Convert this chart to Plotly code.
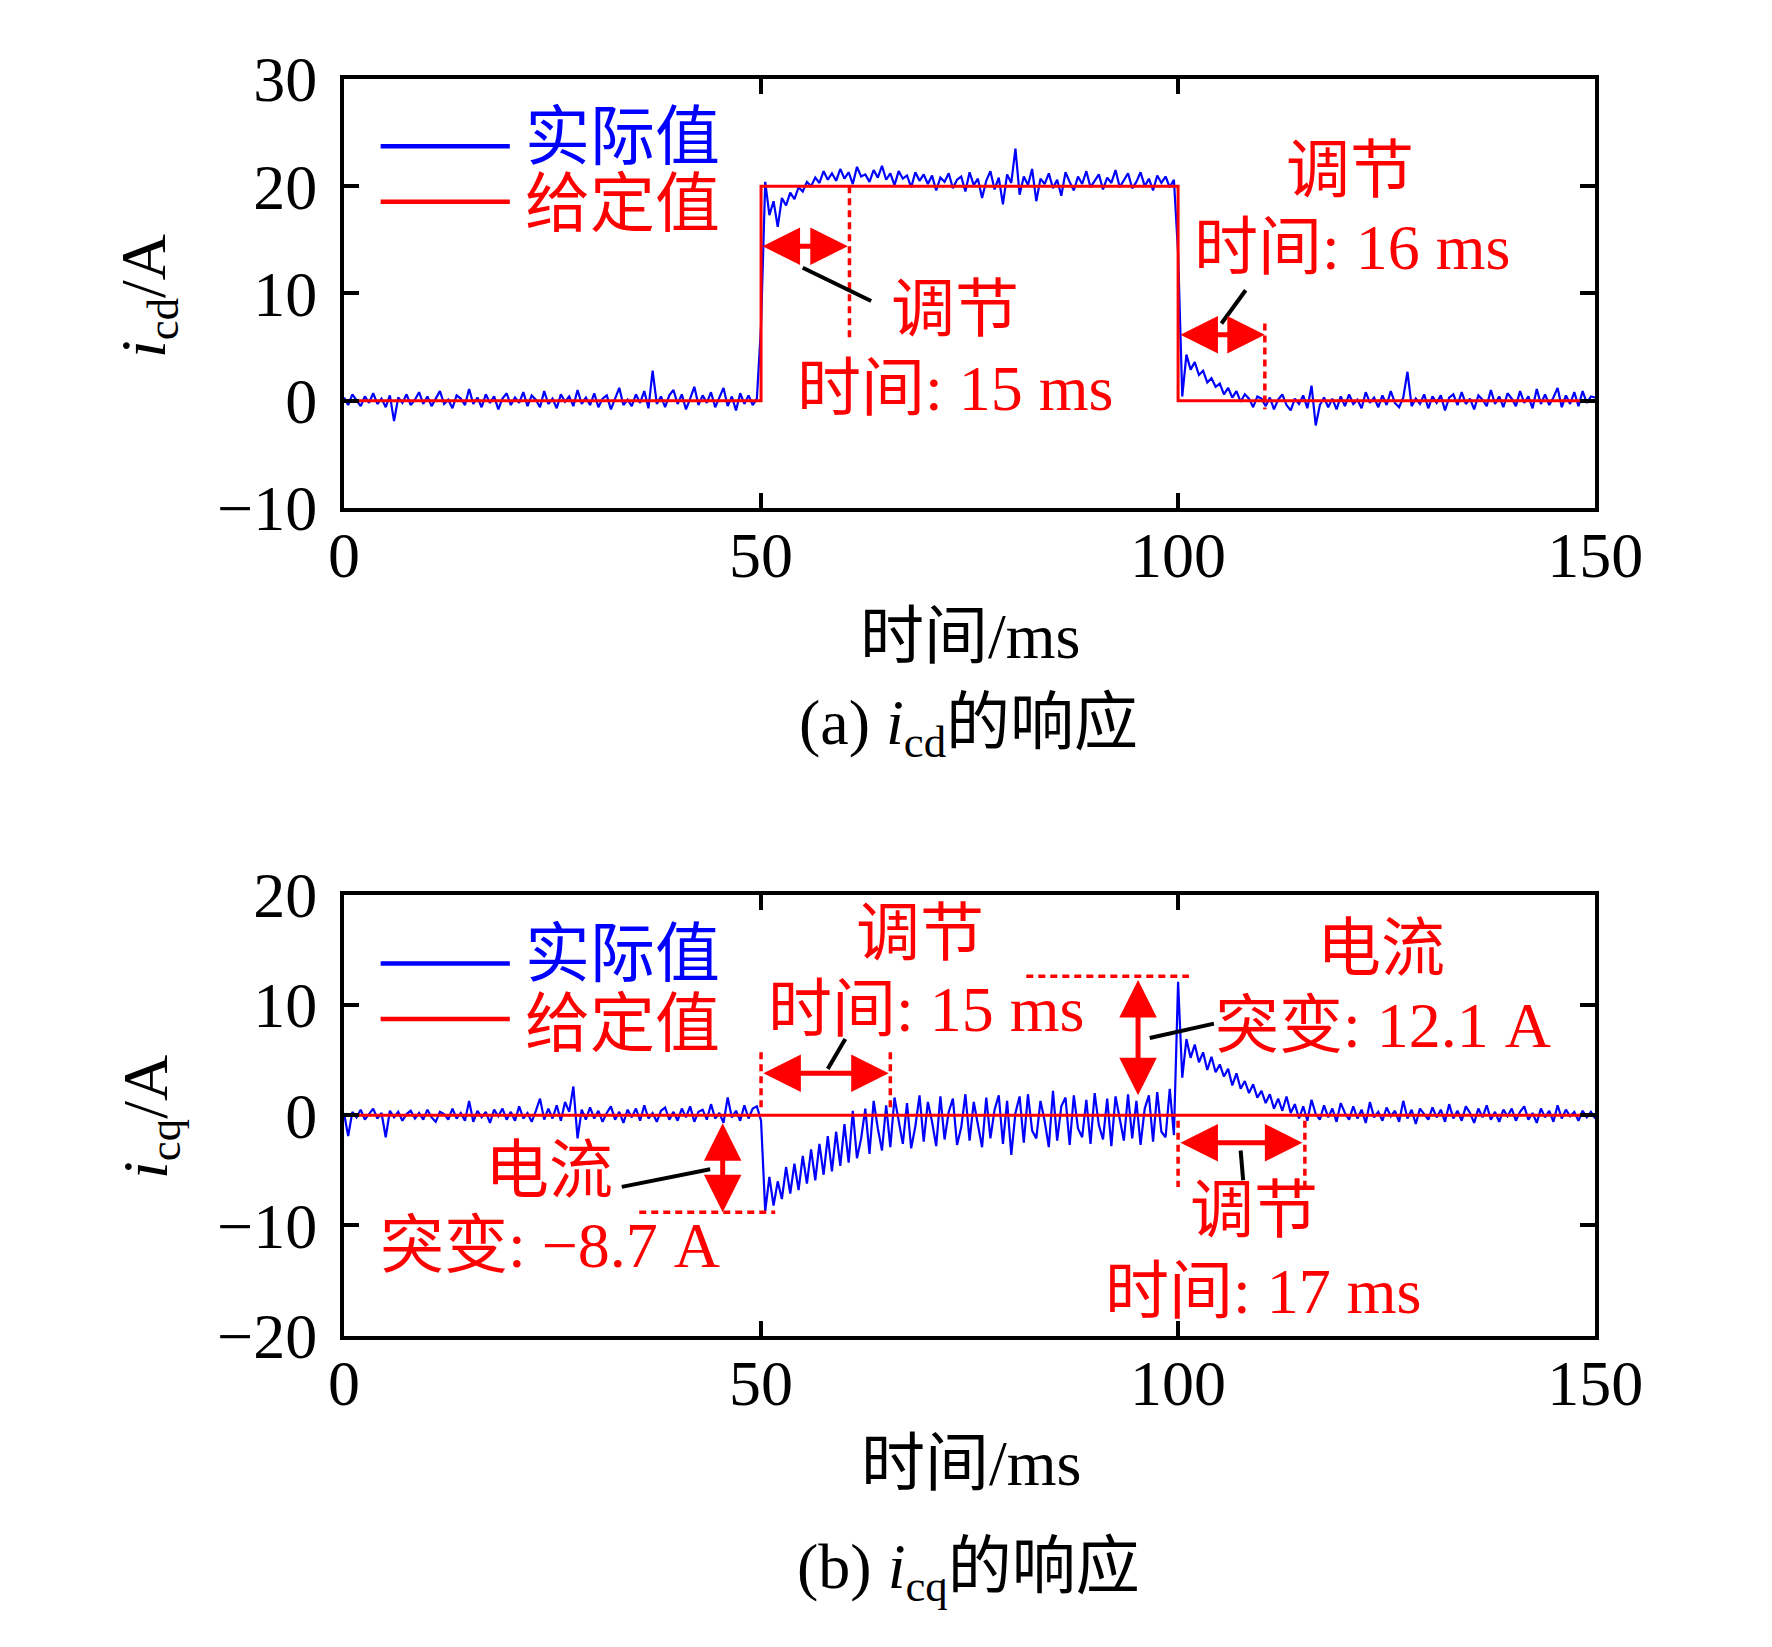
import plotly.graph_objects as go

W, H = 1772, 1647

# time base: 0 .. 150 ms, 0.5 ms step
t = [i * 0.5 for i in range(301)]

# (a) i_cd actual value, A
icd_actual = [
    0.3, -0.4, 0.6, 0.1, -0.5, 0.4, -0.2, 0.7, -0.3, 0.2, -0.6, 0.5, -1.9, 0.3, -0.2, 0.6, -0.4, 0.1, 0.8, -0.3,
    0.4, -0.5, 0.2, 0.9, -0.3, 0.1, -0.7, 0.5, 0.2, -0.4, 1.1, -0.3, 0.3, -0.6, 0.6, -0.2, 0.4, -0.8, 0.2, 0.7,
    -0.4, 0.3, -0.2, 0.8, -0.5, 0.5, 0.1, -0.6, 0.9, -0.3, 0.2, -0.7, 0.6, -0.1, 0.4, -0.5, 1.0, -0.3, 0.3, -0.4,
    0.7, -0.6, 0.2, 0.5, -0.8, 0.3, 1.2, -0.4, 0.1, -0.5, 0.6, -0.2, 0.9, -0.7, 2.8, -0.3, 0.4, -0.6, 0.5, 1.0,
    -0.3, 0.6, -0.8, 0.2, 1.3, -0.4, 0.5, -0.2, 0.8, -0.6, 0.3, 1.2, -0.5, 0.4, -0.9, 0.7, -0.3, 0.5, -0.4, 0.2,
    7.0, 20.4, 17.3, 18.6, 16.2, 18.9, 18.2, 19.4, 18.8, 19.9, 19.5, 20.4, 20.0, 20.8, 20.3, 21.4, 20.6, 21.2, 20.5, 21.6,
    20.7, 21.3, 20.2, 21.8, 20.9, 21.1, 20.4, 21.5, 20.8, 21.9, 20.6, 21.2, 20.1, 21.4, 20.7, 21.0, 19.9, 21.3, 20.5, 21.1,
    20.2, 21.0, 19.6, 20.8, 20.4, 21.2, 19.8, 20.6, 20.9, 19.5, 21.3, 20.1, 20.7, 18.9, 20.5, 21.4, 19.7, 20.8, 18.3, 21.1,
    20.3, 23.5, 19.2, 20.9, 20.1, 21.6, 18.6, 20.7, 20.2, 21.2, 19.8, 20.6, 19.1, 21.3, 20.4, 19.6, 20.9, 20.2, 21.4, 19.9,
    20.5, 21.1, 19.7, 20.8, 20.3, 21.5, 19.9, 20.6, 21.2, 19.8, 20.4, 21.3, 20.0, 20.7, 19.6, 21.0, 20.3, 20.9, 19.9, 20.6,
    13.8, 0.4, 4.3, 2.9, 3.6, 2.4, 2.8, 1.7, 2.1, 1.3, 1.6, 0.6, 1.2, 0.3, 0.9, -0.1, 0.6, 0.2, -0.6, 0.4,
    0.2, -0.5, 0.3, -0.8, 0.1, 0.6, -0.4, -0.9, 0.2, -0.3, 0.5, -0.7, 1.4, -2.3, -0.4, 0.3, -0.6, 0.2, -0.8, 0.4,
    -0.5, 0.6, -0.3, 0.1, -0.7, 0.8, -0.2, 0.3, -0.6, 0.5, -0.4, 0.9, -0.2, -0.6, 0.3, 2.7, -0.5, 0.2, -0.3, 0.6,
    -0.7, 0.4, -0.2, 0.5, -0.9, 0.3, 0.6, -0.4, 0.8, -0.3, 0.2, -0.8, 0.5, 0.1, -0.5, 1.0, -0.3, 0.4, -0.6, 0.7,
    0.2, -0.5, 0.9, -0.2, 0.4, -0.7, 1.1, -0.3, 0.6, -0.4, 0.3, 1.2, -0.6, 0.5, -0.3, 0.8, -0.5, 0.9, -0.2, 0.4,
    0.3,
]

# (a) i_cd reference (step)
icd_ref_t = [0, 50, 50, 100, 100, 150]
icd_ref = [0, 0, 20, 20, 0, 0]

# (b) i_cq actual value, A
icq_actual = [
    0.2, -1.9, 0.3, -0.2, 0.5, -0.4, 0.1, 0.6, -0.3, 0.2, -2.0, 0.4, -0.2, 0.3, -0.5, 0.1, 0.4, -0.3, 0.2, -0.4,
    0.5, -0.2, -0.6, 0.3, 0.1, -0.4, 0.6, -0.3, 0.2, -0.5, 1.3, -0.6, 0.4, -0.2, 0.3, -0.7, 0.5, -0.1, 0.6, -0.4,
    0.3, -0.5, 0.8, -0.3, 0.2, -0.6, 0.4, 1.5, -0.4, 0.6, -0.3, 0.9, -0.5, 1.2, 0.3, 2.6, -2.1, 0.5, -0.4, 0.7,
    -0.3, 0.4, -0.6, 0.2, 0.8, -0.4, 0.3, -0.7, 0.5, -0.2, 0.6, -0.5, 0.9, -0.3, 0.2, -0.6, 0.4, 0.7, -0.4, 0.3,
    -0.5, 0.6, -0.2, 0.8, -0.6, 0.3, 0.5, -0.4, 1.0, -0.3, 0.2, -0.7, 1.6, -0.2, 0.4, -0.5, 0.9, -0.3, 0.6, 0.8,
    -0.5, -8.7, -5.6, -8.2, -6.0, -7.6, -4.7, -7.1, -4.4, -6.8, -3.7, -6.2, -3.1, -5.9, -2.6, -5.4, -1.9, -5.1, -1.5, -4.6,
    -0.8, -4.3, 0.4, -3.9, -2.1, 0.6, -3.5, 1.3, -1.2, -3.2, 0.9, -2.9, 1.6, -0.4, -2.6, 1.1, -3.0, -1.0, 1.8, -2.4,
    1.2, -0.6, -2.8, 1.7, -2.2, 0.3, 1.5, -2.7, -1.1, 1.9, -2.3, 1.2, -0.8, -2.9, 1.6, -2.1, 0.5, 1.8, -2.6, 1.3,
    -3.6, 0.2, 1.7, -2.5, 1.9, -1.4, -2.1, 1.3, -0.5, -2.9, 2.2, -2.3, 0.8, 1.6, -2.7, 1.8, -1.2, -2.0, 1.4, -2.6,
    2.0, -0.9, -2.2, 1.5, -2.8, 1.7, -0.3, -2.3, 1.9, -2.1, 1.3, -2.7, 0.6, 1.8, -2.4, 2.1, -1.5, -2.0, 2.4, -1.8,
    12.1, 3.4, 6.9, 5.2, 6.4, 4.8, 5.7, 4.1, 5.3, 3.9, 4.6, 3.5, 4.2, 2.7, 3.8, 2.4, 3.1, 2.0, 2.8, 1.6,
    2.2, 1.1, 1.9, 0.6, 1.5, 0.4, 1.7, 0.2, 1.0, -0.3, 0.8, -0.5, 1.4, 0.1, -0.4, 0.9, -0.2, 0.6, -0.6, 1.1,
    0.2, -0.4, 0.8, -0.3, 0.5, -0.7, 1.2, -0.2, 0.3, -0.5, 0.7, -0.1, 0.4, -0.6, 1.3, -0.3, 0.5, -0.8, 0.6, 0.1,
    -0.4, 0.7, -0.2, 0.5, -0.6, 1.0, -0.3, 0.4, -0.5, 0.8, 0.2, -0.7, 0.6, -0.2, 0.9, -0.4, 0.3, -0.6, 0.5, -0.1,
    0.6, -0.5, 0.3, 0.8, -0.4, 0.2, -0.7, 0.6, -0.2, 0.4, -0.6, 0.9, -0.3, 0.5, -0.1, 0.3, -0.5, 0.4, -0.2, 0.3,
    -0.3,
]

icq_ref_t = [0, 150]
icq_ref = [0, 0]

x_ticks = [0, 50, 100, 150]
icd_ticks = [-10, 0, 10, 20, 30]
icq_ticks = [-20, -10, 0, 10, 20]

SERIF = "Liberation Serif, Noto Sans CJK SC"
BLUE = "#0000ff"
RED = "#ff0000"


def P(px, py):
    # pixel position in the picture -> paper coordinates
    return px / W, 1 - py / H


fig = go.Figure()
fig.add_trace(go.Scatter(x=t, y=icd_actual, mode="lines", line=dict(color=BLUE, width=2.2),
                         xaxis="x", yaxis="y", showlegend=False))
fig.add_trace(go.Scatter(x=icd_ref_t, y=icd_ref, mode="lines", line=dict(color=RED, width=3),
                         xaxis="x", yaxis="y", showlegend=False))
fig.add_trace(go.Scatter(x=t, y=icq_actual, mode="lines", line=dict(color=BLUE, width=2.2),
                         xaxis="x2", yaxis="y2", showlegend=False))
fig.add_trace(go.Scatter(x=icq_ref_t, y=icq_ref, mode="lines", line=dict(color=RED, width=3),
                         xaxis="x2", yaxis="y2", showlegend=False))

axis_style = dict(showline=True, linecolor="black", linewidth=4, mirror="ticks",
                  ticks="inside", ticklen=15, tickwidth=4, tickcolor="black",
                  showgrid=False, zeroline=False,
                  tickfont=dict(family=SERIF, size=64, color="black"))

xdom = [332 / W, 1630 / W]
fig.update_layout(
    width=W, height=H,
    margin=dict(l=0, r=0, t=0, b=0),
    paper_bgcolor="white", plot_bgcolor="white",
    xaxis=dict(domain=xdom, range=[0, 150], tickvals=x_ticks, anchor="y",
               ticklabelstandoff=-12, **axis_style),
    yaxis=dict(domain=[1 - 486 / H, 1 - 37.5 / H], range=[-10, 30], tickvals=icd_ticks,
               anchor="x", ticklabelstandoff=10, **axis_style),
    xaxis2=dict(domain=xdom, range=[0, 150], tickvals=x_ticks, anchor="y2",
                ticklabelstandoff=-12, **axis_style),
    yaxis2=dict(domain=[1 - 1351 / H, 1 - 890 / H], range=[-20, 20], tickvals=icq_ticks,
                anchor="x2", ticklabelstandoff=10, **axis_style),
)

ann = []
shapes = []


def text(s, px, py, color="black", size=64, angle=0, xanchor="center"):
    x, y = P(px, py)
    ann.append(dict(text=s, x=x, y=y, xref="paper", yref="paper", showarrow=False,
                    xanchor=xanchor, yanchor="middle", textangle=angle,
                    font=dict(family=SERIF, size=size, color=color)))


def label(s, x, y, ax="x", ay="y", size=64):
    ann.append(dict(text=s, x=x, y=y, xref=ax, yref=ay, showarrow=False,
                    xanchor="center", yanchor="middle",
                    font=dict(family=SERIF, size=size, color=RED)))


def double_arrow(x0, y0, x1, y1, ax="x", ay="y"):
    ann.append(dict(text="", x=x1, y=y1, ax=x0, ay=y0, xref=ax, yref=ay, axref=ax, ayref=ay,
                    showarrow=True, arrowside="end+start", arrowhead=2, startarrowhead=2,
                    arrowsize=1.5, startarrowsize=1.5, arrowwidth=5, arrowcolor=RED,
                    standoff=0, startstandoff=0))


def dashed(x0, y0, x1, y1, ax="x", ay="y"):
    shapes.append(dict(type="line", x0=x0, y0=y0, x1=x1, y1=y1, xref=ax, yref=ay,
                       line=dict(color=RED, width=3.5, dash="7px,5px")))


def leader(x0, y0, x1, y1, ax="x", ay="y"):
    shapes.append(dict(type="line", x0=x0, y0=y0, x1=x1, y1=y1, xref=ax, yref=ay,
                       line=dict(color="black", width=4)))


# legends (drawn inside each panel)
for yb, yr in [(108, 166), (962, 1020)]:
    for yy, col in [(yb, BLUE), (yr, RED)]:
        x0, y0 = P(370, yy)
        x1, _ = P(504, yy)
        shapes.append(dict(type="line", x0=x0, x1=x1, y0=y0, y1=y0, xref="paper", yref="paper",
                           line=dict(color=col, width=4.5)))
text("实际值", 518, 98, BLUE, 65, xanchor="left")
text("给定值", 518, 168, RED, 65, xanchor="left")
text("实际值", 518, 952, BLUE, 65, xanchor="left")
text("给定值", 518, 1025, RED, 65, xanchor="left")

# axis titles and captions
text("时间/ms", 981, 620)
text("(a) <i>i</i><sub>cd</sub>的响应", 980, 715)
text("时间/ms", 982, 1485)
text("(b) <i>i</i><sub>cq</sub>的响应", 980, 1597)
text("<i>i</i><sub>cd</sub>/A", 128, 264, angle=-90)
text("<i>i</i><sub>cq</sub>/A", 130, 1122, angle=-90)

# (a) annotations
label("调节", 120.6, 21.5)
label("时间: 16 ms", 120.8, 14.3)
label("调节", 73.2, 8.5)
label("时间: 15 ms", 73.3, 1.15)
double_arrow(50.0, 14.4, 60.4, 14.4)
double_arrow(100.1, 6.15, 110.4, 6.15)
dashed(60.6, 20, 60.6, 5.5)
dashed(110.4, 7.2, 110.4, -0.8)
leader(55.0, 12.4, 63.2, 9.3)
leader(105.2, 7.2, 108.1, 10.3)

# (b) annotations
label("调节", 69.1, 16.5, "x2", "y2")
label("时间: 15 ms", 69.8, 9.6, "x2", "y2")
label("电流", 24.6, -5.0, "x2", "y2")
label("突变: −8.7 A", 24.7, -11.8, "x2", "y2")
label("电流", 124.3, 15.1, "x2", "y2")
label("突变: 12.1 A", 124.6, 8.1, "x2", "y2")
label("调节", 109.1, -8.6, "x2", "y2")
label("时间: 17 ms", 110.2, -16.0, "x2", "y2")
double_arrow(50.1, 3.8, 65.3, 3.8, "x2", "y2")
double_arrow(45.4, -0.6, 45.4, -8.8, "x2", "y2")
double_arrow(95.2, 12.4, 95.2, 1.8, "x2", "y2")
double_arrow(100.1, -2.5, 114.9, -2.5, "x2", "y2")
dashed(50.0, 5.7, 50.0, 0.4, "x2", "y2")
dashed(65.5, 5.7, 65.5, 0.4, "x2", "y2")
dashed(35.4, -8.8, 51.7, -8.8, "x2", "y2")
dashed(81.8, 12.6, 101.3, 12.6, "x2", "y2")
dashed(100.0, -0.5, 100.0, -6.5, "x2", "y2")
dashed(115.2, -0.5, 115.2, -6.5, "x2", "y2")
leader(58.0, 4.2, 60.1, 6.9, "x2", "y2")
leader(33.3, -6.5, 43.9, -4.9, "x2", "y2")
leader(96.6, 7.0, 104.3, 8.3, "x2", "y2")
leader(107.5, -3.2, 107.8, -5.9, "x2", "y2")

fig.update_layout(annotations=ann, shapes=shapes)
fig.write_html("out.html")
